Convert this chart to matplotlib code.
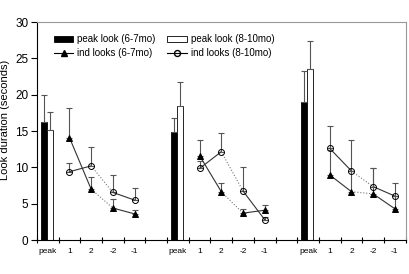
import matplotlib
matplotlib.use("Agg")
import matplotlib.pyplot as plt
import numpy as np

plt.rcParams["font.family"] = ["Liberation Sans", "DejaVu Sans"]

# group positions (peak bar centre); individual looks follow at +1..+4
group_x = [0.5, 6.5, 12.5]
tick_names = ["peak", "1", "2", "-2", "-1"]

peak_young = [16.3, 14.9, 19.0]
peak_young_err = [3.7, 1.85, 4.25]
peak_old = [15.1, 18.5, 23.6]
peak_old_err = [2.5, 3.2, 3.8]

ind_young = [[14.1, 7.0, 4.4, 3.6],
             [11.6, 6.65, 3.7, 4.1],
             [8.95, 6.65, 6.35, 4.3]]
ind_young_err = [[4.0, 1.7, 1.2, 0.5],
                 [2.1, 1.15, 0.6, 0.7],
                 [3.5, 2.8, 3.6, 1.8]]
ind_old = [[9.4, 10.2, 6.55, 5.5],
           [9.85, 12.15, 6.75, 2.8],
           [12.6, 9.5, 7.35, 6.05]]
ind_old_err = [[1.15, 2.65, 2.35, 1.6],
               [1.0, 2.6, 3.35, 0.3],
               [3.1, 4.25, 2.6, 1.75]]

seg_styles = ["-", ":", "-"]

fig = plt.figure(figsize=(4.1, 2.74), dpi=100)
ax = fig.add_axes([0.09, 0.124, 0.8995, 0.7957])

bw = 0.28
errkw = dict(ecolor="#555555", elinewidth=0.8, capsize=2, capthick=0.8)
for g in range(3):
    p = group_x[g]
    ax.bar(p - 0.17, peak_young[g], bw, color="black", edgecolor="black", linewidth=0.6,
           yerr=[[0], [peak_young_err[g]]], error_kw=errkw,
           label="peak look (6-7mo)" if g == 0 else None, zorder=2)
    ax.bar(p + 0.11, peak_old[g], bw, color="white", edgecolor="black", linewidth=0.6,
           yerr=[[0], [peak_old_err[g]]], error_kw=errkw,
           label="peak look (8-10mo)" if g == 0 else None, zorder=2)

    xs = np.arange(1, 5) + p
    for ys, es, mk, mfc, ms in [(ind_old[g], ind_old_err[g], "o", "none", 4.3),
                                (ind_young[g], ind_young_err[g], "^", "black", 4.6)]:
        ax.errorbar(xs, ys, yerr=[np.zeros(4), es], fmt="none", **errkw, zorder=3)
        for i in range(3):
            ax.plot(xs[i:i + 2], ys[i:i + 2], color="#333333" if seg_styles[i] == "-" else "#777777",
                    linestyle=seg_styles[i], linewidth=0.8, zorder=3)
        ax.plot(xs, ys, linestyle="none", marker=mk, markersize=ms, markerfacecolor=mfc,
                markeredgecolor="black", markeredgewidth=0.7, zorder=4)

# legend proxies for lines
ax.plot([], [], color="black", linewidth=0.8, marker="^", markersize=4.6,
        markerfacecolor="black", label="ind looks (6-7mo)")
ax.plot([], [], color="black", linewidth=0.8, marker="o", markersize=4.3,
        markerfacecolor="none", label="ind looks (8-10mo)")

h, l = ax.get_legend_handles_labels()
order = [l.index("peak look (6-7mo)"), l.index("ind looks (6-7mo)"),
         l.index("peak look (8-10mo)"), l.index("ind looks (8-10mo)")]
ax.legend([h[i] for i in order], [l[i] for i in order], ncol=2, frameon=False,
          fontsize=7, loc="upper left", bbox_to_anchor=(0.03, 0.97),
          handlelength=2.0, handleheight=0.6, columnspacing=1.2, labelspacing=0.4,
          handletextpad=0.4, borderaxespad=0.2)

ax.set_xlim(0, 17)
ax.set_ylim(0, 30)
ax.set_yticks(np.arange(0, 31, 5))
ax.set_xticks(np.arange(0, 18, 1))
ax.set_xticklabels([])
label_pos = [p + k for p in group_x for k in range(5)]
ax.set_xticks(label_pos, minor=True)
ax.set_xticklabels(tick_names * 3, minor=True, fontsize=6)
ax.tick_params(axis="x", which="minor", length=0, pad=6)
ax.tick_params(axis="x", which="major", direction="inout", length=5, width=0.8)
ax.tick_params(axis="y", direction="out", length=4, labelsize=8.5, width=0.8, pad=2)
ax.set_ylabel("Look duration (seconds)", fontsize=8)
ax.yaxis.set_label_coords(-0.073, 0.55)

for s in ["top", "right"]:
    ax.spines[s].set_color("#999999")
for s in ["left", "bottom"]:
    ax.spines[s].set_color("black")
    ax.spines[s].set_linewidth(0.8)

fig.savefig("out.png", dpi=100)
